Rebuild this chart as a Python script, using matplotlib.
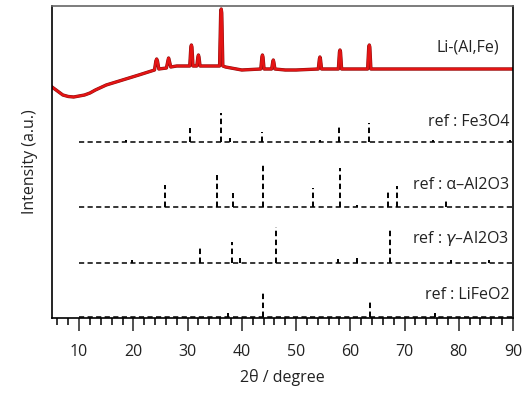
import numpy as np
import matplotlib.pyplot as plt

plt.rcParams['font.family'] = ['Open Sans', 'DejaVu Sans']

# measured pattern Li-(Al,Fe): 2theta and intensity (arbitrary, stacked units)
tt = [5, 6, 7, 8, 9, 10, 11, 12, 13, 15, 18, 21, 23.9, 24.15, 24.3, 24.45, 24.7,
      26.1, 26.4, 26.5, 26.6, 26.9, 28, 30.4, 30.6, 30.7, 30.8, 31.0, 31.7, 31.9, 32.0,
      32.1, 32.3, 33.5, 35.9, 36.1, 36.2, 36.3, 36.5, 37, 40, 43.5, 43.7, 43.8, 43.9, 44.1,
      45.5, 45.7, 45.8, 45.9, 46.1, 48, 50, 54.1, 54.3, 54.4, 54.5, 54.7, 57.8, 58.0,
      58.1, 58.2, 58.4, 60, 63.2, 63.4, 63.5, 63.6, 63.8, 66, 70, 75, 80, 85, 90]
inten = [231, 227, 223, 221.5, 221, 222, 223, 225, 228, 233, 238, 243, 248, 257, 259, 257, 249,
         250, 258, 260, 258, 251, 252, 252, 271, 273, 271, 252, 252, 261, 263,
         261, 252, 252, 252, 305, 309, 305, 252, 251, 248, 249, 261, 263, 261, 249,
         249, 256, 258, 256, 249, 248, 248, 249, 259, 261, 259, 249, 249, 266,
         268, 266, 249, 249, 249, 271, 273, 271, 249, 249, 249, 249, 249, 249, 249]

# reference patterns: offset, peak positions, peak heights
fe3o4_off = 176
fe3o4_pos = [18.7, 30.5, 36.1, 37.8, 43.8, 54.4, 58.0, 63.5, 75.2, 89.5]
fe3o4_h = [2, 14, 29, 4, 10, 2, 15, 19, 2, 2]

alpha_off = 111
alpha_pos = [25.9, 35.5, 38.3, 43.9, 53.1, 58.1, 61.3, 67.0, 68.7, 77.6]
alpha_h = [22, 32, 14, 44, 19, 39, 2, 15, 21, 8]

gamma_off = 55
gamma_pos = [19.8, 32.2, 38.1, 39.6, 46.3, 57.8, 61.3, 67.4, 78.5, 85.6]
gamma_h = [3, 16, 21, 5, 36, 4, 5, 35, 3, 3]

lifeo2_off = 1
lifeo2_pos = [37.4, 43.9, 63.6, 75.7]
lifeo2_h = [4, 25, 15, 4]

labels = ['Li-(Al,Fe)', 'ref : Fe3O4', 'ref : α–Al2O3',
          r'ref : $\gamma$–Al2O3', 'ref : LiFeO2']
label_y = [271, 196, 133, 80, 23]

fig = plt.figure(figsize=(5.27, 3.97), dpi=100)
ax = fig.add_axes([52/527, 79/397, 461/527, 312/397])

ax.plot(tt, inten, color='#8a0c0c', lw=2.4, solid_joinstyle='round')
ax.plot(tt, inten, color='#e41414', lw=1.7, solid_joinstyle='round')

refs = [(fe3o4_off, fe3o4_pos, fe3o4_h), (alpha_off, alpha_pos, alpha_h),
        (gamma_off, gamma_pos, gamma_h), (lifeo2_off, lifeo2_pos, lifeo2_h)]
for off, pos, h in refs:
    ax.plot([10, 90], [off, off], color='black', lw=1.1, dashes=(3.4, 2.2))
    ax.vlines(pos, off, np.array(h) + off, color='black', lw=1.4,
              linestyles=[(0, (2.8, 1.8))])

for lab, y in zip(labels, label_y):
    ax.text(89.3 if lab != labels[0] else 87.5, y, lab, ha='right', va='center',
            fontsize=11.5, color='#222222')

ax.set_xlim(5, 90)
ax.set_ylim(0, 312)
ax.set_xticks(range(10, 91, 10))
ax.set_xticks(range(6, 91, 2), minor=True)
ax.set_yticks([])
ax.tick_params(axis='x', which='major', direction='out', length=9.5, width=1.1,
               labelsize=11.5, pad=9, colors='#222222')
ax.tick_params(axis='x', which='minor', direction='out', length=5, width=1.1)
ax.spines['top'].set_color('#666666')
for s in ax.spines.values():
    s.set_linewidth(1.2)
ax.set_xlabel('2θ / degree', fontsize=11.5, color='#222222', labelpad=7)
ax.set_ylabel('Intensity (a.u.)', fontsize=11.5, color='#222222', labelpad=10)

fig.savefig('out.png', dpi=100)
